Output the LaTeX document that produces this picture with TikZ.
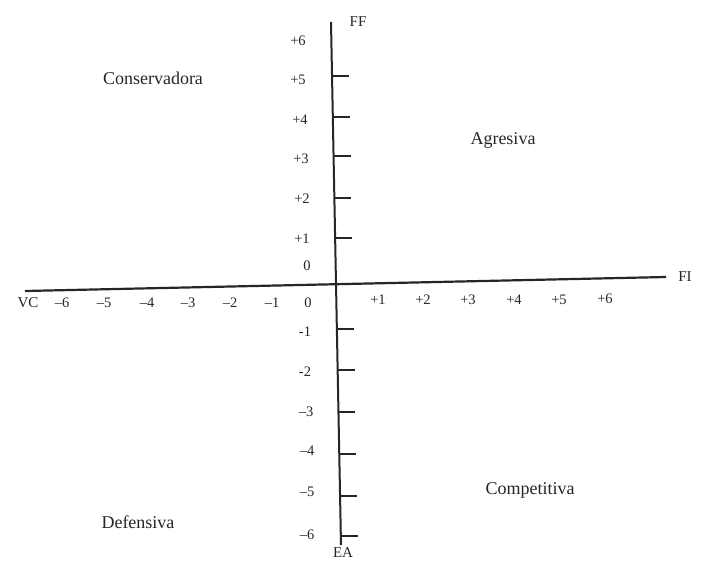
\documentclass[tikz,border=0pt]{standalone}
\usepackage{fontspec}
\setmainfont{Liberation Serif}
\begin{document}
\begin{tikzpicture}[x=1pt,y=-1pt,
  axis/.style={line width=2.2pt,black!85},
  tickmark/.style={line width=2pt,black!85},
  num/.style={font=\fontsize{14.5}{14.5}\selectfont,text=black!85,inner sep=0pt},
  axlab/.style={font=\fontsize{15}{15}\selectfont,text=black!85,inner sep=0pt},
  quad/.style={font=\fontsize{18}{18}\selectfont,text=black!85,inner sep=0pt}]
\useasboundingbox (0,0) rectangle (702,562);
\fill[white] (0,0) rectangle (702,562);
% axes
\coordinate (vtop) at (331,22);
\coordinate (vbot) at (341,545);
\coordinate (hleft) at (25,291);
\coordinate (hright) at (666,277);
\draw[axis,line width=2pt] (vtop) -- (vbot);
\draw[axis] (hleft) -- (hright);
% tick anchors on vertical axis
\path (vtop) -- (vbot)
  coordinate[pos=0.1033] (t5) coordinate[pos=0.1816] (t4)
  coordinate[pos=0.2562] (t3) coordinate[pos=0.3365] (t2)
  coordinate[pos=0.4130] (t1) coordinate[pos=0.5870] (tm1)
  coordinate[pos=0.6654] (tm2) coordinate[pos=0.7457] (tm3)
  coordinate[pos=0.8260] (tm4) coordinate[pos=0.9063] (tm5)
  coordinate[pos=0.9828] (tm6);
\foreach \t in {t5,t4,t3,t2,t1,tm1,tm2,tm3,tm4,tm5,tm6}
  \draw[tickmark] (\t) -- ++(17,0);
% axis letters
\node[axlab] (ff) at (358,22) {FF};
\node[axlab] (ea) at (343,553) {EA};
\node[axlab] (fi) at (685,277) {FI};
\node[axlab] (vc) at (28,303) {VC};
% vertical numbers
\node[num] (p6) at (298,41) {+6};
\node[num] (p5) at (298,80) {+5};
\node[num] (p4) at (300,120) {+4};
\node[num] (p3) at (301,159) {+3};
\node[num] (p2) at (302,199) {+2};
\node[num] (p1) at (302,239) {+1};
\node[num] (z1) at (307,266) {0};
\node[num] (m1) at (305,332) {-1};
\node[num] (m2) at (305,372) {-2};
\node[num] (m3) at (306,412) {–3};
\node[num] (m4) at (307,451) {–4};
\node[num] (m5) at (307,492) {–5};
\node[num] (m6) at (307,535) {–6};
% horizontal numbers
\node[num] (hm6) at (62,303) {–6};
\node[num] (hm5) at (104,303) {–5};
\node[num] (hm4) at (147,303) {–4};
\node[num] (hm3) at (188,303) {–3};
\node[num] (hm2) at (230,303) {–2};
\node[num] (hm1) at (272,303) {–1};
\node[num] (z2) at (308,303) {0};
\node[num] (hp1) at (378,300) {+1};
\node[num] (hp2) at (423,300) {+2};
\node[num] (hp3) at (468,300) {+3};
\node[num] (hp4) at (514,300) {+4};
\node[num] (hp5) at (559,300) {+5};
\node[num] (hp6) at (605,299) {+6};
% quadrant labels
\node[quad] (cons) at (153,78) {Conservadora};
\node[quad] (agr) at (503,140) {Agresiva};
\node[quad] (def) at (138,522) {Defensiva};
\node[quad] (comp) at (530,490) {Competitiva};
\end{tikzpicture}
\end{document}
